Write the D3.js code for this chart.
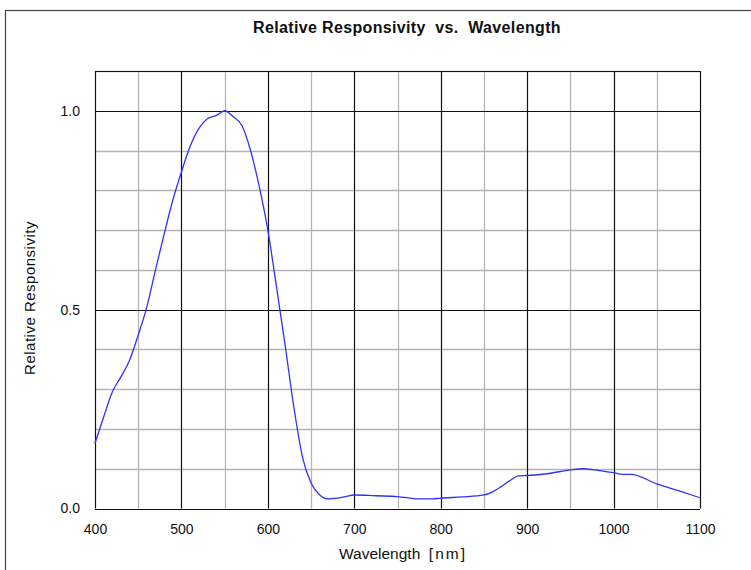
<!DOCTYPE html>
<html><head><meta charset="utf-8">
<script src="https://cdn.jsdelivr.net/npm/d3@7"></script>
<style>body{margin:0;background:#fff}svg{display:block}text{font-family:"Liberation Sans",Arial,sans-serif}</style>
</head><body>
<svg id="c" width="751" height="570"></svg>
<script>
const wavelengths = [400,410,420,430,440,450,460,470,480,490,500,510,520,530,540,550,560,570,580,590,600,610,620,630,640,650,660,670,680,690,700,725,750,775,790,800,825,850,860,870,880,890,900,925,950,965,975,1000,1010,1020,1050,1075,1100];
const responsivity = [0.164,0.23,0.293,0.331,0.373,0.436,0.507,0.6,0.69,0.775,0.846,0.91,0.955,0.98,0.988,1.0,0.985,0.963,0.90,0.81,0.70,0.557,0.41,0.256,0.13,0.064,0.034,0.024,0.026,0.03,0.034,0.032,0.030,0.024,0.024,0.026,0.029,0.034,0.042,0.055,0.07,0.082,0.083,0.088,0.097,0.1,0.098,0.09,0.086,0.086,0.062,0.045,0.027];
const xTicks = [400,500,600,700,800,900,1000,1100];
const xMinor = [450,550,650,750,850,950,1050];
const yTicks = [0,0.5,1.0];
const yMinor = [0.1,0.2,0.3,0.4,0.6,0.7,0.8,0.9,1.1];
const title = "Relative Responsivity  vs.  Wavelength";
const xTitleMain = "Wavelength  ";
const xTitleUnit = "[nm]";
const yTitle = "Relative Responsivity";

const svg = d3.select("#c");
const L=95, R=700, T=71, B=508.5;
const x = d3.scaleLinear().domain([400,1100]).range([L,R]);
const y = d3.scaleLinear().domain([0,1.1]).range([B,T]);

svg.append("rect").attr("x",5.5).attr("y",10.5).attr("width",800).attr("height",600)
  .attr("fill","#fff").attr("stroke","#444").attr("stroke-width",1.2);

const g = svg.append("g");
g.selectAll(".vx").data(xMinor).join("line").attr("x1",d=>Math.round(x(d))+0.5).attr("x2",d=>Math.round(x(d))+0.5)
  .attr("y1",T).attr("y2",B).attr("stroke","#b4b4b4").attr("stroke-width",1.3);
g.selectAll(".hy").data(yMinor).join("line").attr("y1",d=>Math.round(y(d))+0.5).attr("y2",d=>Math.round(y(d))+0.5)
  .attr("x1",L).attr("x2",R).attr("stroke","#b4b4b4").attr("stroke-width",1.3);
g.selectAll(".Vx").data(xTicks).join("line").attr("x1",d=>Math.round(x(d))+0.5).attr("x2",d=>Math.round(x(d))+0.5)
  .attr("y1",T).attr("y2",B).attr("stroke","#111").attr("stroke-width",1.2);
g.selectAll(".Hy").data(yTicks.concat([1.1])).join("line").attr("y1",d=>Math.round(y(d))+0.5).attr("y2",d=>Math.round(y(d))+0.5)
  .attr("x1",L).attr("x2",R).attr("stroke","#111").attr("stroke-width",1.2);

const xAxis = svg.append("g").attr("transform",`translate(0,${B})`)
  .call(d3.axisBottom(x).tickValues(xTicks).tickSize(0).tickPadding(16).tickFormat(d3.format("d")));
xAxis.select(".domain").remove();
xAxis.selectAll("text").attr("font-size","14px").attr("fill","#111").style("font-family","'Liberation Sans',Arial,sans-serif");
const yAxis = svg.append("g").attr("transform",`translate(${L},0)`)
  .call(d3.axisLeft(y).tickValues(yTicks).tickSize(0).tickPadding(15).tickFormat(d3.format(".1f")));
yAxis.select(".domain").remove();
yAxis.selectAll("text").attr("font-size","14px").attr("fill","#111").style("font-family","'Liberation Sans',Arial,sans-serif");

const line = d3.line().x((d,i)=>x(wavelengths[i])).y(d=>y(d)).curve(d3.curveMonotoneX);
svg.append("path").datum(responsivity).attr("d",line).attr("fill","none").attr("stroke","#3030ff").attr("stroke-width",1.3);

svg.append("text").attr("x",407).attr("y",33).attr("text-anchor","middle").attr("font-size","16px")
  .attr("font-weight","bold").attr("fill","#111").style("white-space","pre").style("letter-spacing","0.35px").text(title);
const xt = svg.append("text").attr("x",403).attr("y",559).attr("text-anchor","middle").attr("font-size","15.5px")
  .attr("fill","#111").style("white-space","pre");
xt.append("tspan").text(xTitleMain);
xt.append("tspan").style("letter-spacing","2px").text(xTitleUnit);
svg.append("text").attr("transform","translate(35,298) rotate(-90)").attr("text-anchor","middle").attr("font-size","15px")
  .attr("fill","#111").style("letter-spacing","0.5px").text(yTitle);
</script>
</body></html>
